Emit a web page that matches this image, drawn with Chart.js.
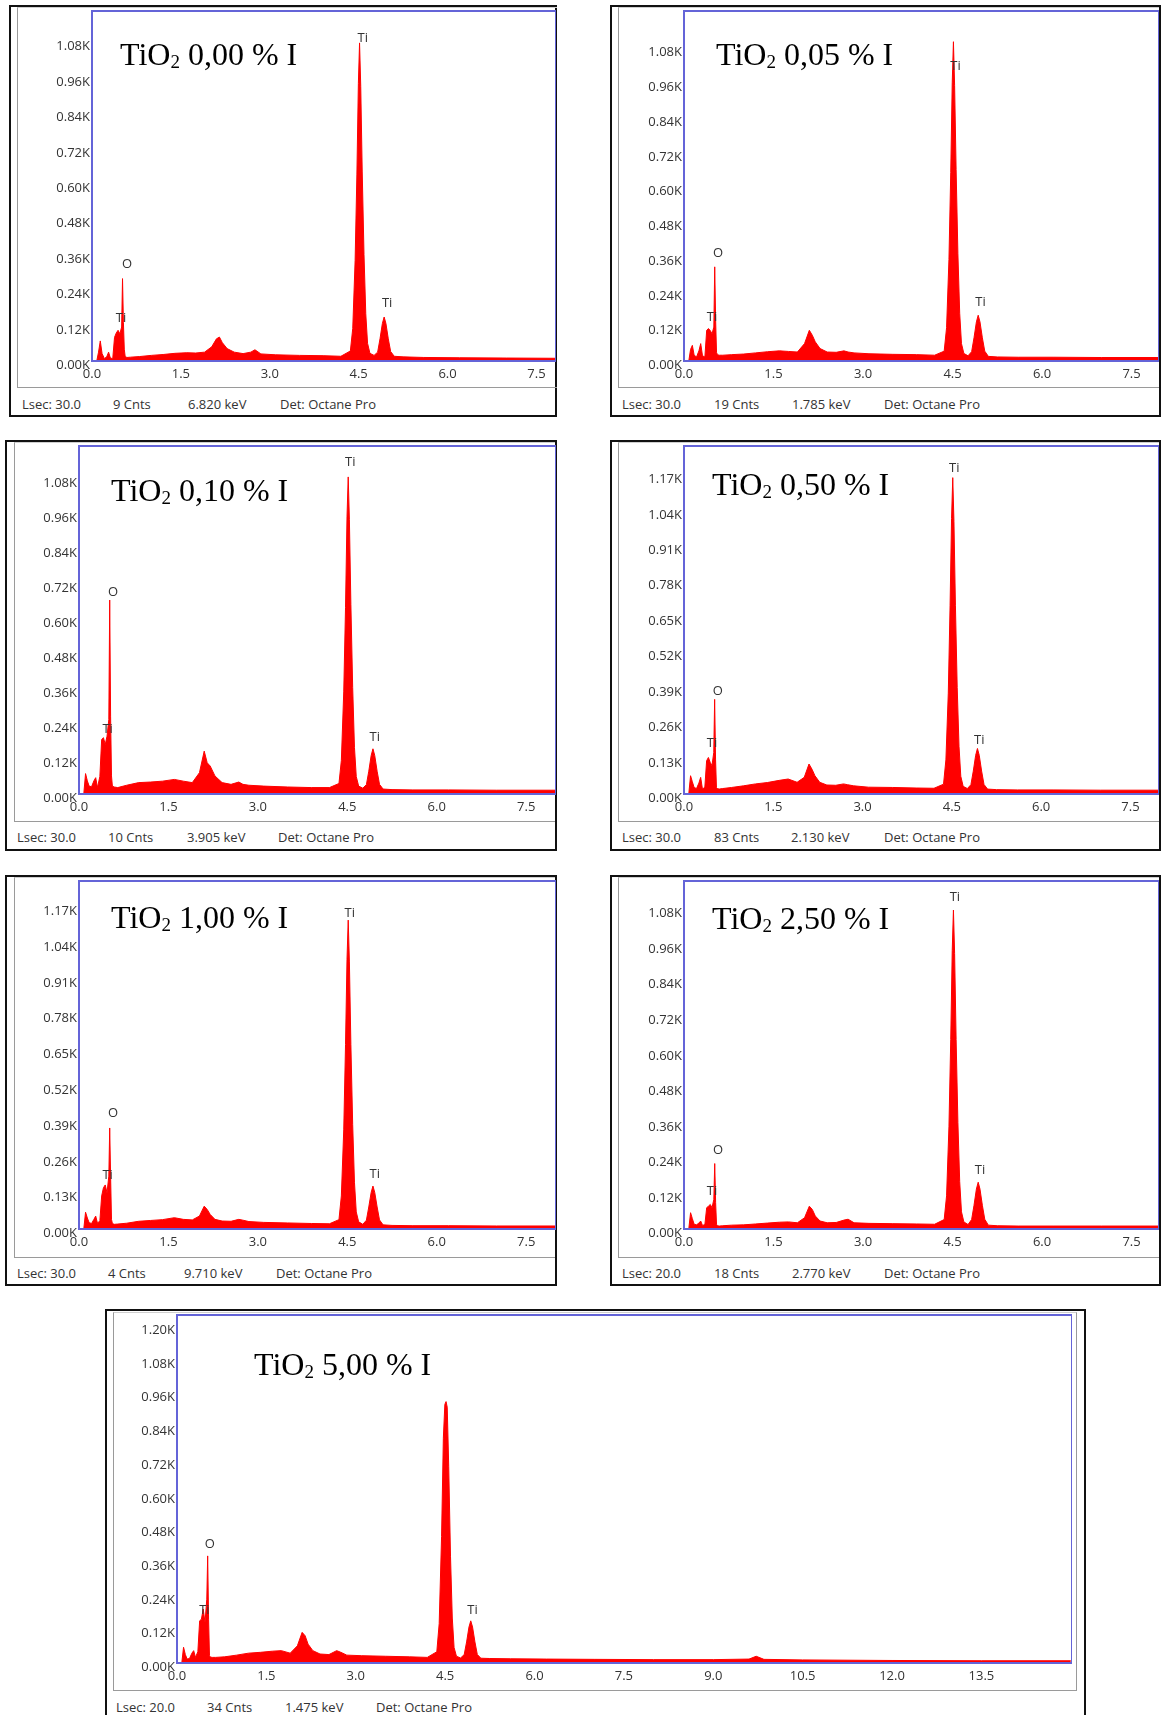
<!DOCTYPE html>
<html><head><meta charset="utf-8">
<script src="https://cdn.jsdelivr.net/npm/chart.js@4.4.1/dist/chart.umd.min.js"></script>
<style>
html,body{margin:0;padding:0;background:#fff;}
body{width:1161px;height:1715px;overflow:hidden;position:relative;}
.bx{position:absolute;box-sizing:border-box;border:2px solid #111;}
.gr{position:absolute;box-sizing:border-box;border-left:1px solid #9a9a9a;border-top:1px solid #cfcfcf;border-bottom:1px solid #9a9a9a;}
.ft{position:absolute;font-family:"Open Sans";font-size:13px;line-height:18px;color:#333;white-space:nowrap;}
.tt{position:absolute;font-family:"Liberation Serif";font-size:32px;line-height:32px;color:#000;white-space:nowrap;}
.tt sub{font-size:19px;vertical-align:-3px;line-height:0;}
canvas{position:absolute;}
</style></head><body>
<script>
// ---------- DATA ----------
const energyKeV = [
  0.08,0.11,0.14,0.17,0.21,0.25,0.28,0.31,0.35,0.38,
  0.41,0.44,0.47,0.50,0.515,0.53,0.545,0.56,0.59,0.65,
  0.80,1.00,1.20,1.40,1.60,1.75,1.90,2.02,2.10,2.15,
  2.20,2.28,2.40,2.55,2.68,2.75,2.85,3.10,3.50,3.90,
  4.20,4.36,4.40,4.44,4.47,4.495,4.515,4.535,4.56,4.59,
  4.62,4.65,4.69,4.76,4.82,4.86,4.90,4.93,4.96,5.00,
  5.04,5.10,5.25,5.60,6.20,7.00,8.00,9.00,9.60,9.72,
  9.85,10.5,12.0,13.5,15.0];

const counts000 = [
  0,30,68,25,8,15,30,10,8,80,
  95,104,92,115,279,130,40,15,12,13,
  15,19,22,26,28,27,30,48,75,81,
  62,42,30,25,30,38,24,21,19,18,
  16,34,110,340,630,940,1077,930,640,360,
  160,60,26,19,30,75,127,149,127,75,
  32,16,14,12,11,10,9,8,8,8,
  8,7,7,6,6];
const counts005 = [
  0,40,54,20,14,35,60,18,14,106,
  112,105,94,117,325,140,30,22,20,20,
  22,24,28,32,35,33,31,60,106,89,
  66,43,31,30,35,31,28,25,23,22,
  20,34,115,350,650,960,1102,950,660,370,
  165,60,26,18,32,80,135,158,135,80,
  34,16,14,13,13,12,12,11,11,11,
  11,10,10,10,10];
const counts010 = [
  0,70,45,27,25,45,56,22,60,187,
  193,170,198,255,665,267,62,27,24,22,
  30,39,41,44,50,44,39,73,147,107,
  96,62,39,33,41,33,30,27,24,22,
  22,36,115,350,640,950,1087,940,650,365,
  160,60,27,20,32,78,132,155,132,78,
  33,17,15,14,14,13,13,12,12,12,
  12,11,11,11,11];
const counts050 = [
  0,67,45,24,20,40,61,18,25,122,
  134,116,104,152,347,128,24,20,18,20,
  24,30,37,42,50,55,43,61,110,91,
  67,43,33,32,37,34,30,25,24,22,
  21,36,125,370,690,1010,1160,1000,690,390,
  175,65,28,20,34,84,142,167,142,84,
  35,18,16,15,15,14,14,13,13,13,
  13,12,12,12,12];
const counts100 = [
  0,61,40,23,20,35,47,21,30,120,
  150,160,132,192,367,192,35,20,17,18,
  21,28,31,34,41,35,33,47,83,71,
  53,35,29,28,35,32,27,24,22,20,
  19,34,120,360,670,980,1122,970,670,380,
  170,62,26,17,32,80,133,156,133,80,
  33,15,13,12,12,11,11,10,10,10,
  10,10,9,9,9];
const counts250 = [
  0,55,35,16,14,20,27,12,15,72,
  77,83,72,100,221,89,16,11,10,11,
  13,14,17,20,23,24,21,38,77,66,
  44,27,21,22,30,33,21,19,18,17,
  16,32,112,345,640,940,1077,930,640,360,
  160,58,24,15,32,80,135,158,135,80,
  33,13,11,10,10,10,10,9,9,9,
  9,9,8,8,8];
const counts500 = [
  0,56,30,14,16,35,44,20,40,150,
  156,192,144,227,381,156,26,21,20,20,
  22,28,35,38,42,44,35,61,109,97,
  67,44,32,30,44,38,28,26,24,22,
  20,40,140,450,800,920,930,910,700,380,
  160,55,24,18,30,75,128,150,128,75,
  30,17,16,15,14,13,12,12,14,24,
  13,11,9,8,8];

const yTicks012 = [0,120,240,360,480,600,720,840,960,1080];
const yTicks013 = [0,130,260,390,520,650,780,910,1040,1170];
const yTicks012Long = [0,120,240,360,480,600,720,840,960,1080,1200];
const xTicksShort = [0,1.5,3.0,4.5,6.0,7.5];
const xTicksLong = [0,1.5,3.0,4.5,6.0,7.5,9.0,10.5,12.0,13.5];

const xMax = [7.83, 7.96, 8.0, 7.98, 8.0, 7.96, 15.02];
const yMax = [1185, 1208, 1193, 1276, 1264, 1175, 1238];

const concentrations = ["0,00","0,05","0,10","0,50","1,00","2,50","5,00"];
const lsec = ["30.0","30.0","30.0","30.0","30.0","20.0","20.0"];
const cnts = ["9","19","10","83","4","18","34"];
const cursorKeV = ["6.820","1.785","3.905","2.130","9.710","2.770","1.475"];
const detector = "Octane Pro";

// peak labels: [element, keV, counts]
const peaks000 = [["Ti",0.49,144],["O",0.59,328],["Ti",4.57,1094],["Ti",4.98,195]];
const peaks005 = [["Ti",0.47,152],["O",0.57,373],["Ti",4.55,1016],["Ti",4.97,204]];
const peaks010 = [["Ti",0.48,221],["O",0.57,693],["Ti",4.55,1136],["Ti",4.96,196]];
const peaks050 = [["Ti",0.47,185],["O",0.57,375],["Ti",4.54,1195],["Ti",4.96,198]];
const peaks100 = [["Ti",0.48,194],["O",0.57,419],["Ti",4.54,1146],["Ti",4.96,198]];
const peaks250 = [["Ti",0.47,128],["O",0.57,265],["Ti",4.54,1119],["Ti",4.96,198]];
const peaks500 = [["Ti",0.46,186],["O",0.55,424],["Ti",4.96,189]];

const allCounts = [counts000,counts005,counts010,counts050,counts100,counts250,counts500];
const allPeaks = [peaks000,peaks005,peaks010,peaks050,peaks100,peaks250,peaks500];
const allYTicks = [yTicks012,yTicks012,yTicks012,yTicks013,yTicks013,yTicks012,yTicks012Long];
const allXTicks = [xTicksShort,xTicksShort,xTicksShort,xTicksShort,xTicksShort,xTicksShort,xTicksLong];

// ---------- LAYOUT (page pixels) ----------
const layout = [
 {bx:[9,5,548,412],    gr:[17,7,540,381],   plot:[92,11,556,361],    foot:403.5, fx:[22,113,188,280],  tx:120, tb:65},
 {bx:[610,5,551,412],  gr:[618,7,541,381],  plot:[684,11,1159,361],  foot:403.5, fx:[622,714,792,884], tx:716, tb:64.5},
 {bx:[5,440,552,411],  gr:[14,442,541,380], plot:[79,446,556,794],   foot:837,   fx:[17,108,187,278],  tx:111, tb:501},
 {bx:[610,440,551,411],gr:[618,442,541,380],plot:[684,446,1159,794], foot:837,   fx:[622,714,791,884], tx:712, tb:495},
 {bx:[5,875,552,411],  gr:[14,877,541,381], plot:[79,881,556,1229],  foot:1273,  fx:[17,108,184,276],  tx:111, tb:928},
 {bx:[610,875,551,411],gr:[618,877,541,381],plot:[684,881,1159,1229],foot:1273,  fx:[622,714,792,884], tx:712, tb:929},
 {bx:[105,1309,981,420],gr:[113,1312,964,379],plot:[177,1315,1072,1663],foot:1707,fx:[116,207,285,376], tx:254, tb:1375, grRight:true}
];

const YW = 75, PT = 14, XH = 30;

Chart.defaults.font.family = '"Open Sans"';
Chart.defaults.color = '#333';

const framePlugin = {
  id:'frame',
  afterDatasetsDraw(chart){
    const {ctx, chartArea:a} = chart;
    ctx.save();
    ctx.strokeStyle = '#6464d8';
    ctx.lineWidth = 2;
    ctx.strokeRect(a.left, a.top, a.right - a.left, a.bottom - a.top);
    ctx.restore();
  }
};
const peakPlugin = {
  id:'peaks',
  afterDatasetsDraw(chart, args, opts){
    const {ctx, scales:{x, y}} = chart;
    ctx.save();
    ctx.font = '13px "Open Sans"';
    ctx.fillStyle = '#333';
    ctx.textAlign = 'center';
    ctx.textBaseline = 'middle';
    (opts.items || []).forEach(([t, e, c]) => ctx.fillText(t, x.getPixelForValue(e), y.getPixelForValue(c)));
    ctx.restore();
  }
};

function el(tag, cls, styles, html){
  const d = document.createElement(tag);
  if (cls) d.className = cls;
  Object.assign(d.style, styles);
  if (html !== undefined) d.innerHTML = html;
  document.body.appendChild(d);
  return d;
}

layout.forEach((L, i) => {
  el('div','bx',{left:L.bx[0]+'px',top:L.bx[1]+'px',width:L.bx[2]+'px',height:L.bx[3]+'px'});
  const g = el('div','gr',{left:L.gr[0]+'px',top:L.gr[1]+'px',width:L.gr[2]+'px',height:L.gr[3]+'px'});
  if (L.grRight) g.style.borderRight = '1px solid #9a9a9a';

  const [pl, pt, pr, pb] = L.plot;
  const cv = document.createElement('canvas');
  const W = (pr - pl) + YW, H = (pb - pt) + PT + XH;
  cv.width = W; cv.height = H;
  Object.assign(cv.style, {left:(pl - YW)+'px', top:(pt - PT)+'px', width:W+'px', height:H+'px'});
  document.body.appendChild(cv);

  const counts = allCounts[i];
  const yt = allYTicks[i], xt = allXTicks[i];
  new Chart(cv, {
    type:'line',
    data:{datasets:[{
      data: energyKeV.map((e, k) => ({x:e, y:counts[k]})),
      borderColor:'#ff0000', backgroundColor:'#ff0000',
      borderWidth:1, pointRadius:0, fill:'origin', tension:0
    }]},
    options:{
      responsive:false, animation:false, devicePixelRatio:1,
      layout:{padding:{top:PT, right:0, left:0, bottom:0}},
      plugins:{legend:{display:false}, tooltip:{enabled:false}, peaks:{items:allPeaks[i]}},
      scales:{
        x:{type:'linear', min:0, max:xMax[i],
          afterBuildTicks:a => { a.ticks = xt.map(v => ({value:v})); },
          afterFit:a => { a.height = XH; },
          grid:{display:false, drawTicks:false}, border:{display:false},
          ticks:{callback:v => Number(v).toFixed(1), font:{size:13}, color:'#333', padding:5, maxRotation:0, autoSkip:false}
        },
        y:{type:'linear', min:0, max:yMax[i],
          afterBuildTicks:a => { a.ticks = yt.map(v => ({value:v})); },
          afterFit:a => { a.width = YW; },
          grid:{display:false, drawTicks:false}, border:{display:false},
          ticks:{callback:v => (v/1000).toFixed(2) + 'K', font:{size:13}, color:'#333', padding:2, labelOffset:4.5, autoSkip:false}
        }
      }
    },
    plugins:[framePlugin, peakPlugin]
  });

  el('div','tt',{left:L.tx+'px',top:(L.tb-27)+'px'}, 'TiO<sub>2</sub> ' + concentrations[i] + ' % I');

  const texts = ['Lsec: ' + lsec[i], cnts[i] + ' Cnts', cursorKeV[i] + ' keV', 'Det: ' + detector];
  texts.forEach((t, k) => el('div','ft',{left:L.fx[k]+'px',top:(L.foot-9)+'px'}, t));
});
</script>
</body></html>
